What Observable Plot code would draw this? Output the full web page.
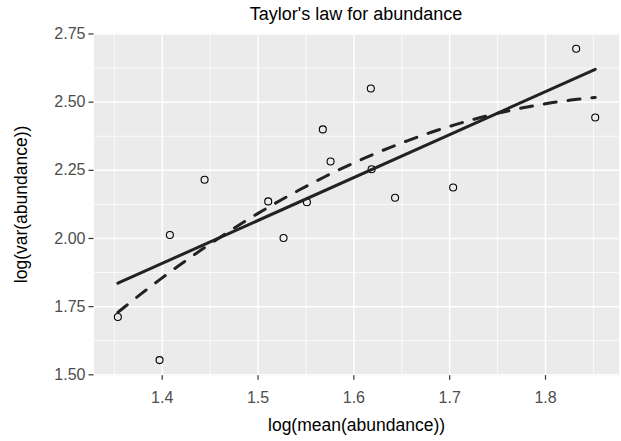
<!DOCTYPE html>
<html><head><meta charset="utf-8">
<script src="https://cdn.jsdelivr.net/npm/d3@7"></script>
<script src="https://cdn.jsdelivr.net/npm/@observablehq/plot@0.6"></script>
<style>
html,body{margin:0;padding:0;background:#fff;}
#wrap{width:621px;height:441px;font-family:"Liberation Sans",Arial,Helvetica,sans-serif;}
#title{box-sizing:border-box;height:26px;padding-top:5.3px;margin-left:93.5px;width:525px;text-align:center;font-size:18px;line-height:18px;color:#000;white-space:nowrap;}
#chart svg{display:block;}
</style></head><body>
<div id="wrap"><div id="title">Taylor's law for abundance</div><div id="chart"></div></div>
<script>
const logMean = [1.3537, 1.3972, 1.4080, 1.4442, 1.5106, 1.5266, 1.5510, 1.5676, 1.5757, 1.6177, 1.6185, 1.6430, 1.7036, 1.8320, 1.8519];
const logVar  = [1.712, 1.554, 2.0125, 2.2155, 2.136, 2.0015, 2.133, 2.400, 2.2826, 2.550, 2.254, 2.1495, 2.187, 2.696, 2.444];
const xTicks = [1.4, 1.5, 1.6, 1.7, 1.8];
const yTicks = [1.50, 1.75, 2.00, 2.25, 2.50, 2.75];
const xMinor = [1.35, 1.45, 1.55, 1.65, 1.75, 1.85];
const yMinor = [1.625, 1.875, 2.125, 2.375, 2.625];
const xTitle = "log(mean(abundance))";
const yTitle = "log(var(abundance))";

const points = logMean.map((x, i) => ({x, y: logVar[i]}));

// quadratic least-squares fit (y ~ x + x^2), evaluated across the data range
function quadFit(xs, ys) {
  const mx = d3.mean(xs);
  const S = [0,0,0,0,0], T = [0,0,0];
  xs.forEach((x, i) => {
    const u = x - mx, y = ys[i];
    let p = 1;
    for (let k = 0; k < 5; k++) { S[k] += p; if (k < 3) T[k] += p * y; p *= u; }
  });
  const A = [[S[0],S[1],S[2],T[0]],[S[1],S[2],S[3],T[1]],[S[2],S[3],S[4],T[2]]];
  for (let c = 0; c < 3; c++) {
    for (let r = c + 1; r < 3; r++) {
      const f = A[r][c] / A[c][c];
      for (let k = c; k < 4; k++) A[r][k] -= f * A[c][k];
    }
  }
  const b = [0,0,0];
  for (let r = 2; r >= 0; r--) {
    let s = A[r][3];
    for (let k = r + 1; k < 3; k++) s -= A[r][k] * b[k];
    b[r] = s / A[r][r];
  }
  return x => b[0] + b[1] * (x - mx) + b[2] * (x - mx) ** 2;
}
const q = quadFit(logMean, logVar);
const [x0, x1] = d3.extent(logMean);
const curve = d3.range(80).map(i => { const x = x0 + (x1 - x0) * i / 79; return {x, y: q(x)}; });

function expand([a, b]) { const r = b - a; return [a - 0.05 * r, b + 0.05 * r]; }
const xDomain = expand(d3.extent(logMean));
const yDomain = expand(d3.extent(logVar));

const W = 621, ML = 93.5, MR = 2.4;
const frameCenterX = (ML + W - MR) / 2;

const chart = Plot.plot({
  width: W,
  height: 415,
  marginLeft: ML,
  marginRight: MR,
  marginTop: 6.65,
  marginBottom: 65.85,
  style: {fontFamily: '"Liberation Sans", Arial, Helvetica, sans-serif', fontSize: "16px", background: "#fff"},
  x: {domain: xDomain},
  y: {domain: yDomain},
  marks: [
    Plot.frame({fill: "#EBEBEB", stroke: null}),
    Plot.ruleX(xMinor, {stroke: "white", strokeWidth: 0.75}),
    Plot.ruleY(yMinor, {stroke: "white", strokeWidth: 0.75}),
    Plot.ruleX(xTicks, {stroke: "white", strokeWidth: 1.5}),
    Plot.ruleY(yTicks, {stroke: "white", strokeWidth: 1.5}),
    Plot.axisX({ticks: xTicks, tickFormat: d3.format(".1f"), tickSize: 4.5, tickPadding: 11, stroke: "#333", strokeWidth: 1.2, fill: "#4D4D4D", fontSize: 16, label: null}),
    Plot.axisY({ticks: yTicks, tickFormat: d3.format(".2f"), tickSize: 5, tickPadding: 3.5, stroke: "#333", strokeWidth: 1.2, fill: "#4D4D4D", fontSize: 16, label: null}),
    Plot.dot(points, {x: "x", y: "y", r: 3.5, stroke: "black", strokeWidth: 1.1, fill: "none"}),
    Plot.linearRegressionY(points, {x: "x", y: "y", ci: 0, stroke: "#222", strokeWidth: 3}),
    Plot.line(curve, {x: "x", y: "y", stroke: "#222", strokeWidth: 3, strokeDasharray: "12,12", curve: "linear"}),
    Plot.text([xTitle], {frameAnchor: "bottom", text: d => d, textAnchor: "middle", lineAnchor: "bottom", dy: 54.85, fontSize: 17.5, fill: "black"}),
    Plot.text([yTitle], {frameAnchor: "middle", text: d => d, textAnchor: "middle", lineAnchor: "bottom", rotate: -90, dx: 26.5 - frameCenterX, fontSize: 17.5, fill: "black"})
  ]
});
document.getElementById("chart").appendChild(chart);
</script>
</body></html>
